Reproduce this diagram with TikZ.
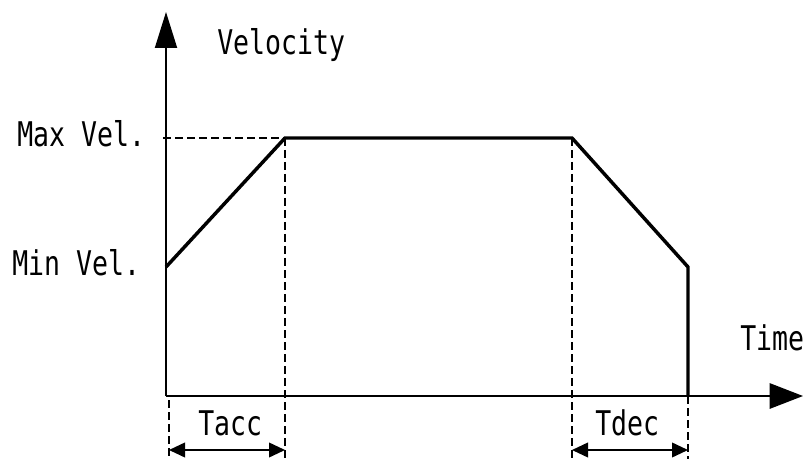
\documentclass[tikz,border=0pt]{standalone}
\usepackage{fontspec}
\setmonofont[FakeStretch=0.78]{DejaVu Sans Mono}
\usetikzlibrary{arrows.meta}
\tikzset{
  lbl/.style={font=\ttfamily\fontsize{25.5pt}{27pt}\selectfont, inner sep=0pt, anchor=base west},
  axis/.style={line width=1.4pt},
  profile/.style={line width=2.6pt, line join=miter},
  guide/.style={line width=1.9pt, dash pattern=on 6pt off 3pt},
  dim/.style={line width=1.3pt, {Triangle[length=12pt,width=11pt]}-{Triangle[length=12pt,width=11pt]}}
}
\begin{document}
\begin{tikzpicture}[x=0.75pt,y=-0.75pt]
\useasboundingbox (0,0) rectangle (805,459);
% axes
\coordinate (O) at (166,396);
\coordinate (ytip) at (166,12);
\coordinate (xtip) at (803,396);
\draw[axis, -{Triangle[length=27pt,width=16.5pt]}] (O) -- (ytip);
\draw[axis, -{Triangle[length=25pt,width=19pt]}] (O) -- (xtip);
% velocity profile
\coordinate (p0) at (166,267);
\coordinate (p1) at (285,138);
\coordinate (p2) at (572,138);
\coordinate (p3) at (688,267);
\coordinate (p4) at (688,396);
% guide lines
\coordinate (mv) at (163,138);
\coordinate (a0) at (169,400);
\coordinate (a0b) at (169,459);
\coordinate (a1b) at (285,459);
\coordinate (d0b) at (572,459);
\coordinate (d1b) at (688,459);
\draw[guide] (mv) -- (p1);
\draw[guide] (p1) -- (a1b);
\draw[guide] (p2) -- (d0b);
\draw[guide] (p4) -- (d1b);
\draw[guide] (a0) -- (a0b);
\draw[profile] (p0) -- (p1) -- (p2) -- (p3) -- (p4);
% time spans
\coordinate (ta0) at (169,450);
\coordinate (ta1) at (285,450);
\coordinate (td0) at (572,450);
\coordinate (td1) at (688,450);
\draw[dim] (ta0) -- (ta1);
\draw[dim] (td0) -- (td1);
% labels
\node[lbl] (vel) at (217,55) {Velocity};
\node[lbl] (maxv) at (17,147) {Max Vel.};
\node[lbl] (minv) at (12,275) {Min Vel.};
\node[lbl] (time) at (740,350) {Time};
\node[lbl] (tacc) at (198,435) {Tacc};
\node[lbl] (tdec) at (595,435) {Tdec};
\end{tikzpicture}
\end{document}
